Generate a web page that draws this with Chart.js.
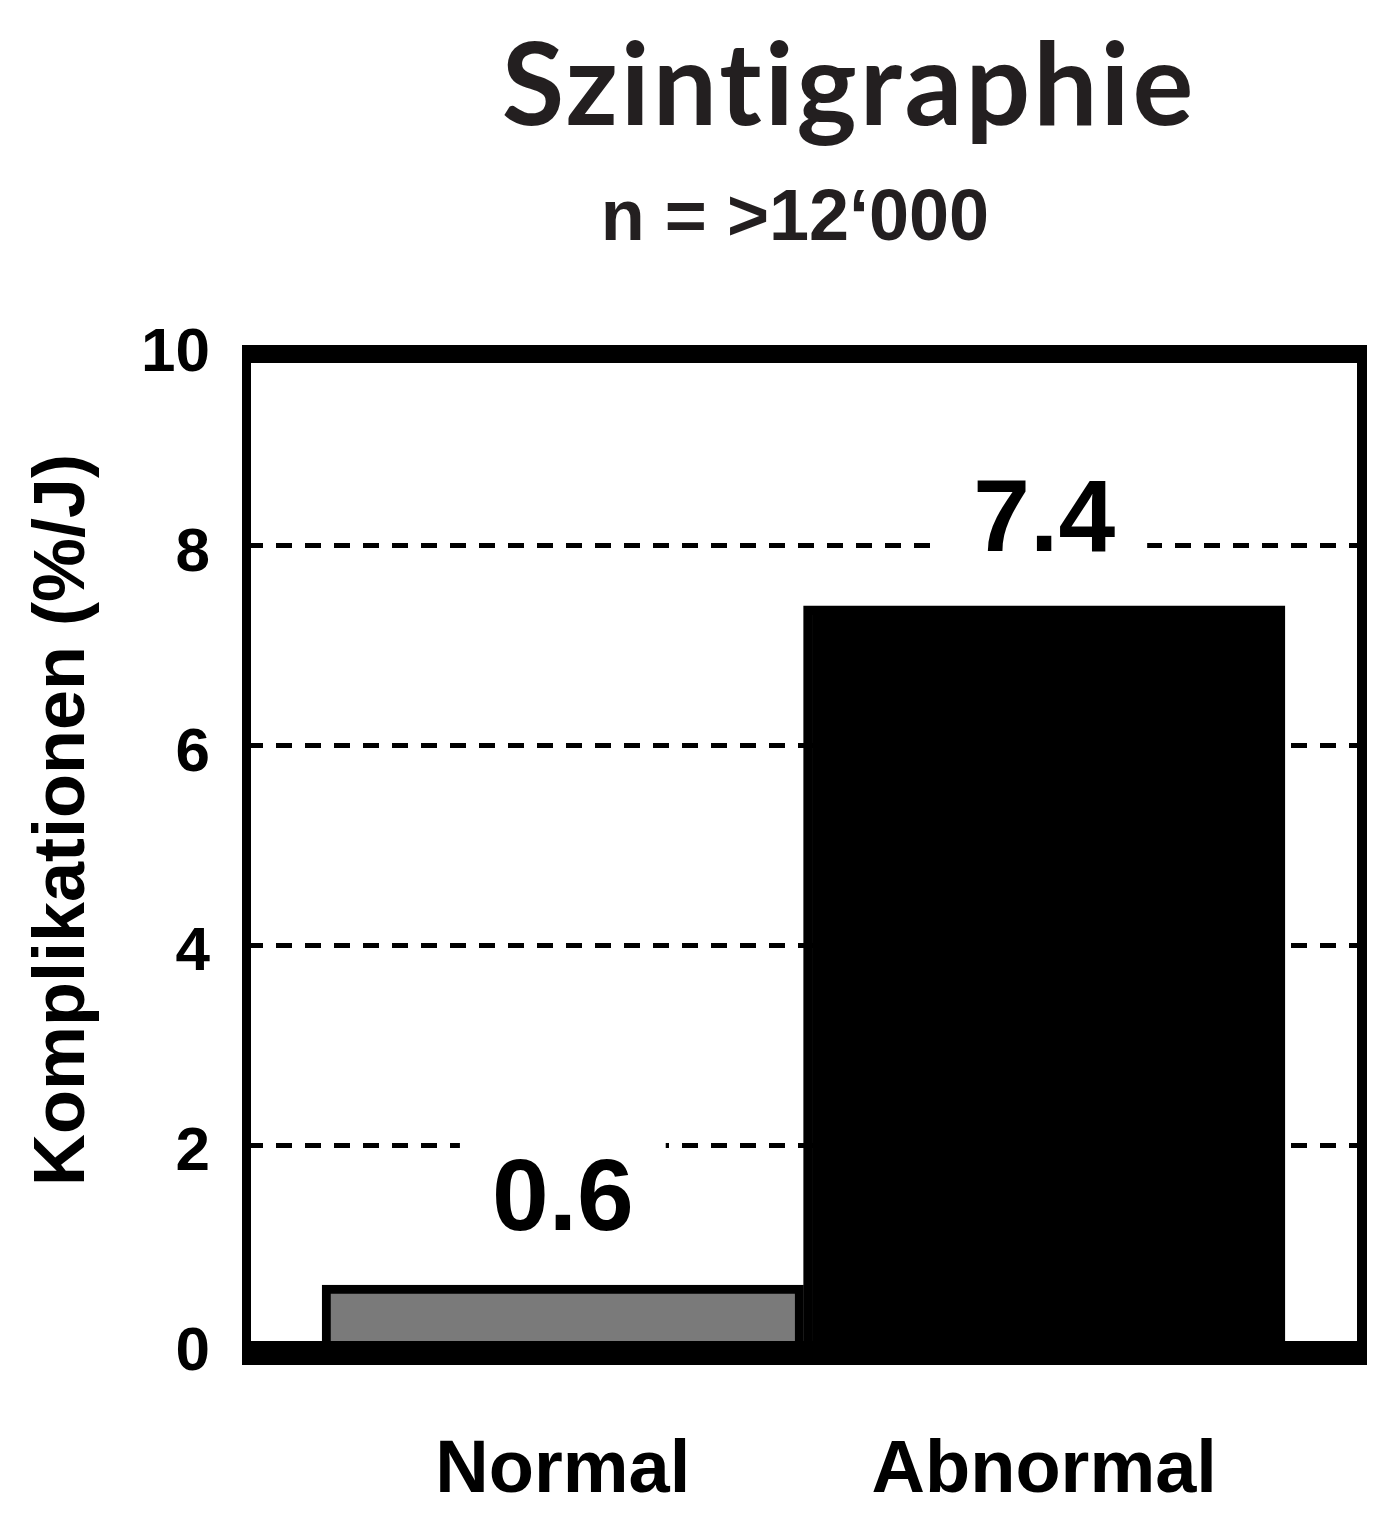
<!DOCTYPE html>
<html>
<head>
<meta charset="utf-8">
<title>Szintigraphie</title>
<script src="https://cdn.jsdelivr.net/npm/chart.js@4.4.0/dist/chart.umd.min.js"></script>
<style>
  body { margin: 0; background: #fff; }
  canvas { display: block; }
</style>
</head>
<body>
<canvas id="myChart" width="1392" height="1519"></canvas>
<script>
const categories = ['Normal', 'Abnormal'];
const values = [0.6, 7.4];
const barColors = ['#7a7a7a', '#000000'];
const yTicks = [0, 2, 4, 6, 8, 10];

const titleText = 'Szintigraphie';
const subtitleText = 'n = >12\u2018000';
const yTitle = 'Komplikationen (%/J)';

const arial = '"Liberation Sans", Arial, sans-serif';

const data = {
    datasets: [{
        data: categories.map((c, i) => ({ x: i, y: values[i] })),
        backgroundColor: barColors,
        borderColor: '#000',
        borderWidth: 9,
        borderSkipped: 'start',
        categoryPercentage: 1,
        barPercentage: 1
    }]
};

// frame + value labels + headings
const decorations = {
    id: 'decorations',
    afterDatasetsDraw(chart) {
        const { ctx, chartArea } = chart;
        const { left, right, top, bottom } = chartArea;
        ctx.save();
        ctx.fillStyle = '#000';
        ctx.fillRect(left - 5, top - 1, right - left + 10, 18);
        ctx.fillRect(left - 5, top - 1, 9, bottom - top + 21);
        ctx.fillRect(right - 5, top - 1, 10, bottom - top + 21);
        ctx.fillRect(left - 5, bottom - 4, right - left + 10, 24);

        const meta = chart.getDatasetMeta(0);
        ctx.font = 'bold 102px ' + arial;
        ctx.textAlign = 'center';
        ctx.textBaseline = 'alphabetic';
        meta.data.forEach((bar, i) => {
            const txt = values[i].toFixed(1);
            const w = ctx.measureText(txt).width;
            const base = bar.y - 55;
            ctx.fillStyle = '#fff';
            ctx.fillRect(bar.x - w / 2 - 32, base - 88, w + 64, 100);
            ctx.fillStyle = '#000';
            ctx.fillText(txt, bar.x, base);
        });
        ctx.restore();
    },
    afterDraw(chart) {
        const { ctx } = chart;
        ctx.save();
        ctx.fillStyle = '#231f20';
        ctx.textAlign = 'center';
        ctx.textBaseline = 'alphabetic';
        ctx.font = 'bold 114px Lato, "Open Sans", sans-serif';
        ctx.letterSpacing = '3px';
        ctx.fillText(titleText, 849, 125);
        ctx.letterSpacing = '0px';
        ctx.font = 'bold 72px ' + arial;
        ctx.fillText(subtitleText, 795, 240);

        // y axis title
        ctx.fillStyle = '#000';
        ctx.translate(64, 820);
        ctx.rotate(-Math.PI / 2);
        ctx.textBaseline = 'middle';
        ctx.font = 'bold 72px ' + arial;
        ctx.fillText(yTitle, 0, 0);
        ctx.restore();
    }
};

const options = {
    responsive: false,
    animation: false,
    devicePixelRatio: 1,
    layout: { padding: { top: 346, right: 30, left: 0, bottom: 0 } },
    plugins: {
        legend: { display: false },
        tooltip: { enabled: false }
    },
    scales: {
        x: {
            type: 'linear',
            offset: false,
            min: -0.656,
            max: 1.66,
            afterBuildTicks(scale) {
                scale.ticks = categories.map((c, i) => ({ value: i }));
            },
            afterFit(scale) { scale.height = 174; },
            grid: { display: false, offset: false },
            border: { display: false },
            ticks: {
                autoSkip: false,
                maxRotation: 0,
                padding: 74,
                color: '#000',
                font: { family: arial, size: 74, weight: 'bold' },
                callback: (v, i) => categories[i]
            }
        },
        y: {
            min: 0,
            max: 10,
            afterBuildTicks(scale) {
                scale.ticks = yTicks.map(v => ({ value: v }));
            },
            afterFit(scale) { scale.width = 247; },
            grid: {
                drawTicks: false,
                lineWidth: 5,
                color: (c) => (c.tick && (c.tick.value === 0 || c.tick.value === 10)) ? 'rgba(0,0,0,0)' : '#000'
            },
            border: { display: false, dash: [16, 13] },
            ticks: {
                padding: 37,
                labelOffset: 8,
                color: '#000',
                font: { family: arial, size: 62, weight: 'bold' }
            }
        }
    }
};

const barChart = new Chart(document.getElementById('myChart'), {
    type: 'bar',
    data: data,
    options: options,
    plugins: [decorations]
});
</script>
</body>
</html>
